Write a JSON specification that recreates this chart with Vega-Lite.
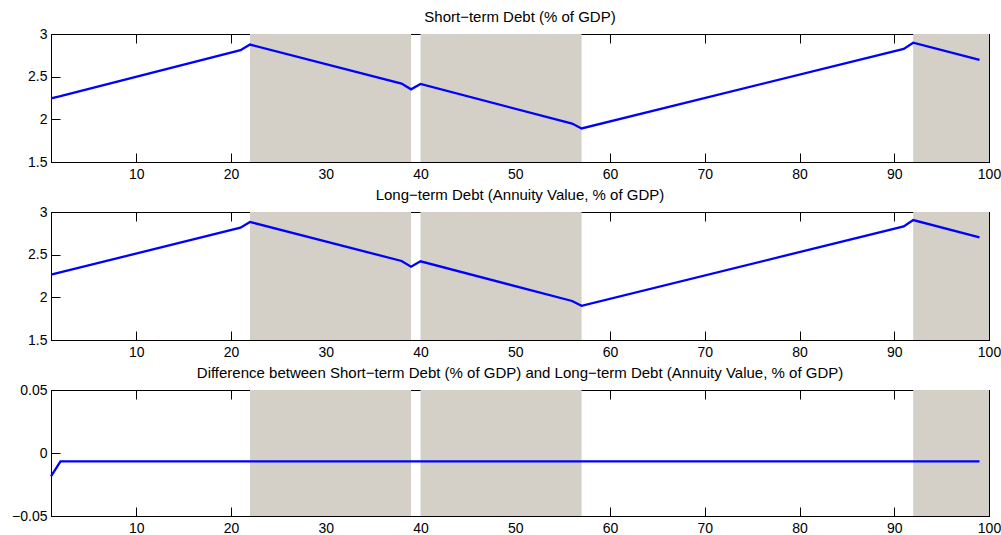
{
  "$schema": "https://vega.github.io/schema/vega-lite/v6.json",
  "autosize": {"type": "pad"},
  "padding": {"left": 11, "top": 9, "right": 0, "bottom": 0},
  "bounds": "flush",
  "spacing": 50,
  "background": "white",
  "datasets": {
    "shade": [
      {"start": 22, "end": 39},
      {"start": 40, "end": 57},
      {"start": 92, "end": 100}
    ],
    "short": [
      {"t": 1, "v": 2.247}, {"t": 2, "v": 2.272}, {"t": 21, "v": 2.81}, {"t": 22, "v": 2.876},
      {"t": 38, "v": 2.419}, {"t": 39, "v": 2.352}, {"t": 40, "v": 2.415}, {"t": 56, "v": 1.95},
      {"t": 57, "v": 1.893}, {"t": 91, "v": 2.825}, {"t": 92, "v": 2.898}, {"t": 99, "v": 2.696}
    ],
    "long": [
      {"t": 1, "v": 2.265}, {"t": 21, "v": 2.817}, {"t": 22, "v": 2.883},
      {"t": 38, "v": 2.426}, {"t": 39, "v": 2.359}, {"t": 40, "v": 2.422}, {"t": 56, "v": 1.957},
      {"t": 57, "v": 1.9}, {"t": 91, "v": 2.832}, {"t": 92, "v": 2.905}, {"t": 99, "v": 2.703}
    ],
    "diff": [
      {"t": 1, "v": -0.0185}, {"t": 2, "v": -0.0067}, {"t": 22, "v": -0.0066}, {"t": 39, "v": -0.0067},
      {"t": 40, "v": -0.0067}, {"t": 99, "v": -0.0067}
    ]
  },
  "config": {
    "view": {"stroke": "black", "strokeWidth": 1},
    "axis": {
      "domainColor": "black", "domainWidth": 1, "tickColor": "black", "tickWidth": 1,
      "tickSize": -9, "labelColor": "black", "labelFont": "Liberation Sans", "labelFontSize": 14,
      "grid": false, "zindex": 1, "labelFlush": false, "labelOverlap": false
    },
    "title": {
      "font": "Liberation Sans", "fontSize": 15, "fontWeight": "normal", "color": "black",
      "anchor": "middle", "frame": "group", "baseline": "alphabetic", "offset": 2
    }
  },
  "vconcat": [
    {
      "width": 938, "height": 128,
      "title": "Short−term Debt (% of GDP)",
      "resolve": {"axis": {"x": "independent", "y": "independent"}},
      "layer": [
        {
          "data": {"name": "shade"},
          "mark": {"type": "rect", "color": "#d4d0c8"},
          "encoding": {
            "x": {"field": "start", "type": "quantitative", "scale": {"domain": [1, 100], "nice": false, "zero": false},
                  "axis": {"orient": "bottom", "title": null, "values": [10, 20, 30, 40, 50, 60, 70, 80, 90, 100], "labelPadding": 14}},
            "x2": {"field": "end"},
            "y": {"datum": 1.5, "type": "quantitative", "scale": {"domain": [1.5, 3], "nice": false, "zero": false},
                  "axis": {"orient": "left", "title": null, "values": [1.5, 2, 2.5, 3], "format": "~g", "labelPadding": 13}},
            "y2": {"datum": 3}
          }
        },
        {
          "data": {"name": "short"},
          "mark": {"type": "line", "color": "#0000ff", "strokeWidth": 2.3},
          "encoding": {
            "x": {"field": "t", "type": "quantitative", "axis": {"orient": "top", "title": null, "labels": false, "values": [10, 20, 30, 40, 50, 60, 70, 80, 90, 100]}},
            "y": {"field": "v", "type": "quantitative", "axis": {"orient": "right", "title": null, "labels": false, "values": [1.5, 2, 2.5, 3]}}
          }
        }
      ]
    },
    {
      "width": 938, "height": 128,
      "title": "Long−term Debt (Annuity Value, % of GDP)",
      "resolve": {"axis": {"x": "independent", "y": "independent"}},
      "layer": [
        {
          "data": {"name": "shade"},
          "mark": {"type": "rect", "color": "#d4d0c8"},
          "encoding": {
            "x": {"field": "start", "type": "quantitative", "scale": {"domain": [1, 100], "nice": false, "zero": false},
                  "axis": {"orient": "bottom", "title": null, "values": [10, 20, 30, 40, 50, 60, 70, 80, 90, 100], "labelPadding": 14}},
            "x2": {"field": "end"},
            "y": {"datum": 1.5, "type": "quantitative", "scale": {"domain": [1.5, 3], "nice": false, "zero": false},
                  "axis": {"orient": "left", "title": null, "values": [1.5, 2, 2.5, 3], "format": "~g", "labelPadding": 13}},
            "y2": {"datum": 3}
          }
        },
        {
          "data": {"name": "long"},
          "mark": {"type": "line", "color": "#0000ff", "strokeWidth": 2.3},
          "encoding": {
            "x": {"field": "t", "type": "quantitative", "axis": {"orient": "top", "title": null, "labels": false, "values": [10, 20, 30, 40, 50, 60, 70, 80, 90, 100]}},
            "y": {"field": "v", "type": "quantitative", "axis": {"orient": "right", "title": null, "labels": false, "values": [1.5, 2, 2.5, 3]}}
          }
        }
      ]
    },
    {
      "width": 938, "height": 126,
      "title": "Difference between Short−term Debt (% of GDP) and Long−term Debt (Annuity Value, % of GDP)",
      "resolve": {"axis": {"x": "independent", "y": "independent"}},
      "layer": [
        {
          "data": {"name": "shade"},
          "mark": {"type": "rect", "color": "#d4d0c8"},
          "encoding": {
            "x": {"field": "start", "type": "quantitative", "scale": {"domain": [1, 100], "nice": false, "zero": false},
                  "axis": {"orient": "bottom", "title": null, "values": [10, 20, 30, 40, 50, 60, 70, 80, 90, 100], "labelPadding": 14}},
            "x2": {"field": "end"},
            "y": {"datum": -0.05, "type": "quantitative", "scale": {"domain": [-0.05, 0.05], "nice": false, "zero": false},
                  "axis": {"orient": "left", "title": null, "values": [-0.05, 0, 0.05], "format": "~g", "labelPadding": 13}},
            "y2": {"datum": 0.05}
          }
        },
        {
          "data": {"name": "diff"},
          "mark": {"type": "line", "color": "#0000ff", "strokeWidth": 2.3},
          "encoding": {
            "x": {"field": "t", "type": "quantitative", "axis": {"orient": "top", "title": null, "labels": false, "values": [10, 20, 30, 40, 50, 60, 70, 80, 90, 100]}},
            "y": {"field": "v", "type": "quantitative", "axis": {"orient": "right", "title": null, "labels": false, "values": [-0.05, 0, 0.05]}}
          }
        }
      ]
    }
  ]
}
